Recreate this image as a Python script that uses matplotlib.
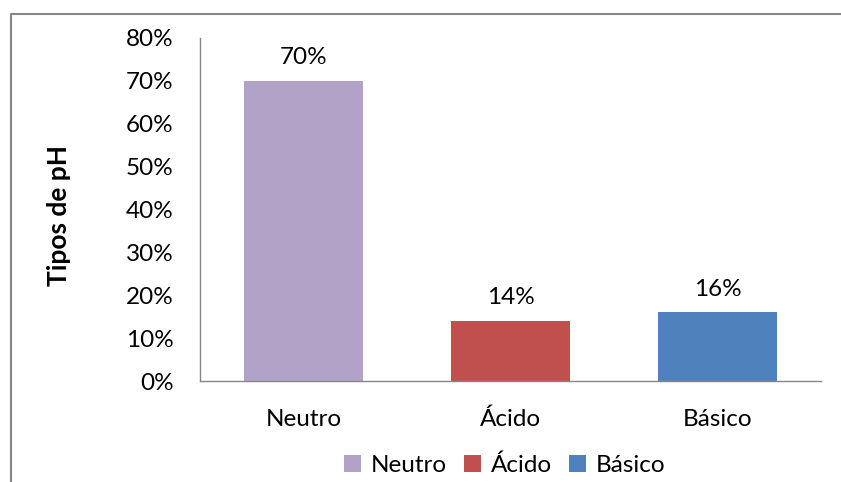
import matplotlib.pyplot as plt
from matplotlib.lines import Line2D
from matplotlib.patches import Patch

import numpy as np

# Data
categories = ['Neutro', 'Ácido', 'Básico']
values = [70, 14, 16]
colors = ['#B3A2C7', '#C0504D', '#4F81BD']
y_ticks = [0, 10, 20, 30, 40, 50, 60, 70, 80]

plt.rcParams['font.family'] = ['Lato', 'DejaVu Sans']

W, H = 841, 482
fig = plt.figure(figsize=(W / 100, H / 100), dpi=100)

# Plot area in pixel positions
left, right, top, bottom = 200, 821, 38, 381
ax = fig.add_axes([left / W, 1 - bottom / H, (right - left) / W, (bottom - top) / H])

x = np.arange(len(categories))
rects = ax.bar(x, values, width=0.575, color=colors)
ax.bar_label(rects, labels=[str(v) + '%' for v in values], padding=9, fontsize=17.5)

ax.set_xlim(-0.5, len(categories) - 0.5)
ax.set_ylim(0, 80)
ax.set_yticks(y_ticks, [str(t) + '%' for t in y_ticks])
ax.set_xticks(x, categories)
ax.tick_params(axis='y', length=0, pad=19, labelsize=17.5)
ax.tick_params(axis='x', length=0, pad=20, labelsize=17.5)

for side in ['top', 'right']:
    ax.spines[side].set_visible(False)
for side in ['left', 'bottom']:
    ax.spines[side].set_color('#868686')
    ax.spines[side].set_linewidth(1.0)

fig.text(59 / W, 1 - 215 / H, 'Tipos de pH', rotation=90, ha='center', va='center',
         fontsize=19, fontweight='bold')

# Legend
handles = [Patch(facecolor=c, edgecolor='none') for c in colors]
fig.legend(handles, categories, loc='center', bbox_to_anchor=(505 / W, 1 - 465 / H),
           ncol=3, frameon=False, fontsize=17.5, handlelength=0.7, handleheight=0.7,
           handletextpad=0.4, columnspacing=0.7, borderpad=0)

# Chart border (cut off at right and bottom)
fig.add_artist(Line2D([10.5 / W, 10.5 / W, 1.0], [0.0, 1 - 13.5 / H, 1 - 13.5 / H],
                      transform=fig.transFigure, color='#878787', linewidth=1.5))

fig.savefig('out.png', dpi=100)
